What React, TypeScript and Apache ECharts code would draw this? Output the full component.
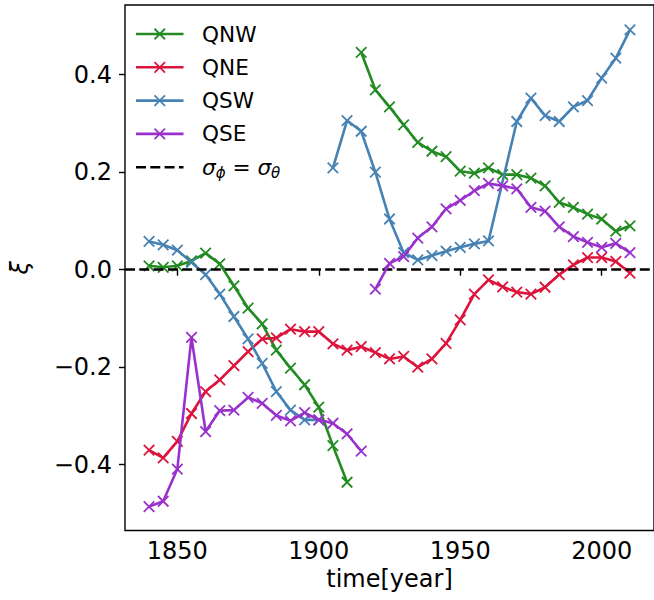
import React, { useEffect, useRef } from "react";
import * as echarts from "echarts";

const years = [
  1840, 1845, 1850, 1855, 1860, 1865, 1870, 1875, 1880, 1885, 1890, 1895,
  1900, 1905, 1910, 1915, 1920, 1925, 1930, 1935, 1940, 1945, 1950, 1955,
  1960, 1965, 1970, 1975, 1980, 1985, 1990, 1995, 2000, 2005, 2010,
];

const qnwValues = [
  0.008, 0.005, 0.008, 0.018, 0.034, 0.012, -0.033, -0.079, -0.111, -0.165,
  -0.202, -0.236, -0.282, -0.361, -0.436, 0.446, 0.369, 0.334, 0.297, 0.261,
  0.243, 0.232, 0.202, 0.198, 0.209, 0.195, 0.195, 0.188, 0.172, 0.138, 0.128,
  0.114, 0.104, 0.079, 0.09,
];

const qneValues = [
  -0.37, -0.386, -0.352, -0.295, -0.25, -0.226, -0.197, -0.168, -0.142, -0.14,
  -0.122, -0.127, -0.127, -0.152, -0.165, -0.158, -0.17, -0.183, -0.178, -0.2,
  -0.183, -0.151, -0.103, -0.05, -0.021, -0.035, -0.046, -0.05, -0.036, -0.01,
  0.01, 0.025, 0.025, 0.017, -0.007,
];

const qswValues: (number | null)[] = [
  0.058, 0.051, 0.04, 0.015, -0.01, -0.05, -0.096, -0.142, -0.192, -0.25,
  -0.288, -0.308, -0.308, 0.209, 0.306, 0.284, 0.2, 0.104, 0.035, 0.02, 0.029,
  0.038, 0.046, 0.053, 0.059, null, 0.304, 0.352, 0.316, 0.304, 0.334, 0.347,
  0.393, 0.434, 0.492,
];

const qseValues = [
  -0.486, -0.475, -0.409, -0.139, -0.332, -0.289, -0.288, -0.262, -0.274,
  -0.299, -0.31, -0.293, -0.308, -0.315, -0.337, -0.372, -0.04, 0.013, 0.027,
  0.065, 0.088, 0.125, 0.142, 0.162, 0.177, 0.172, 0.166, 0.128, 0.12, 0.088,
  0.068, 0.056, 0.046, 0.054, 0.035,
];

// years at which a new, unconnected line segment begins
const qnwSegmentStarts = [1915];
const qneSegmentStarts: number[] = [];
const qswSegmentStarts = [1905];
const qseSegmentStarts = [1920];

const seriesNames = ["QNW", "QNE", "QSW", "QSE"];
const referenceValue = 0;

const xTicks = [1850, 1900, 1950, 2000];
const yTicks = [-0.4, -0.2, 0.0, 0.2, 0.4];

const COLORS = ["#228B22", "#DC143C", "#4682B4", "#9932CC"];
const FONT = "DejaVu Sans";
const X_MARK = "path://M0,0L10,10M0,10L10,0";

function buildSegments(values: (number | null)[], starts: number[]) {
  const segs: [number, number][][] = [];
  let cur: [number, number][] = [];
  years.forEach((yr, i) => {
    if (starts.includes(yr) && cur.length) {
      segs.push(cur);
      cur = [];
    }
    const v = values[i];
    if (v !== null && v !== undefined) cur.push([yr, v]);
  });
  if (cur.length) segs.push(cur);
  return segs;
}

function fmtY(v: number) {
  const s = Math.abs(v).toFixed(1);
  return v < -1e-9 ? "\u2212" + s : s;
}

export default function App() {
  const ref = useRef<HTMLDivElement>(null);

  useEffect(() => {
    if (!ref.current) return;
    const chart = echarts.init(ref.current, undefined, { renderer: "svg" });

    const allValues = [qnwValues, qneValues, qswValues, qseValues];
    const allStarts = [qnwSegmentStarts, qneSegmentStarts, qswSegmentStarts, qseSegmentStarts];

    const series: any[] = [];
    allValues.forEach((vals, k) => {
      buildSegments(vals, allStarts[k]).forEach((seg) => {
        series.push({
          type: "line",
          name: seriesNames[k],
          data: seg,
          symbol: X_MARK,
          symbolSize: 10.5,
          showSymbol: true,
          lineStyle: { color: COLORS[k], width: 2.6 },
          itemStyle: { color: "none", borderColor: COLORS[k], borderWidth: 1.8 },
          emphasis: { disabled: true },
          silent: true,
          z: 2 + k,
        });
      });
    });

    series.push({
      type: "line",
      name: "reference",
      data: [],
      silent: true,
      z: 10,
      markLine: {
        silent: true,
        symbol: ["none", "none"],
        label: { show: false },
        lineStyle: { color: "#000", width: 2.6, type: [10, 4.3] },
        emphasis: { disabled: true },
        data: [{ yAxis: referenceValue }],
      },
    });

    // legend drawn with graphic elements
    const legendX0 = 136;
    const legendX1 = 183.5;
    const legendTextX = 202;
    const rowY = (i: number) => 34 + 33.3 * i;
    const legendEls: any[] = [];
    seriesNames.forEach((nm, i) => {
      const y = rowY(i);
      const c = COLORS[i];
      legendEls.push({
        type: "line",
        shape: { x1: legendX0, y1: y, x2: legendX1, y2: y },
        style: { stroke: c, lineWidth: 2.6 },
      });
      const mx = (legendX0 + legendX1) / 2;
      const h = 5.25;
      legendEls.push({
        type: "line",
        shape: { x1: mx - h, y1: y - h, x2: mx + h, y2: y + h },
        style: { stroke: c, lineWidth: 1.8 },
      });
      legendEls.push({
        type: "line",
        shape: { x1: mx - h, y1: y + h, x2: mx + h, y2: y - h },
        style: { stroke: c, lineWidth: 1.8 },
      });
      legendEls.push({
        type: "text",
        x: legendTextX,
        y: y,
        style: {
          text: nm,
          fill: "#000",
          font: `21.6px "${FONT}"`,
          verticalAlign: "middle",
          align: "left",
        },
      });
    });
    const ry = rowY(4);
    legendEls.push({
      type: "line",
      shape: { x1: legendX0, y1: ry, x2: legendX1, y2: ry },
      style: { stroke: "#000", lineWidth: 2.6, lineDash: [10, 4.3] },
    });
    legendEls.push({
      type: "text",
      x: legendTextX,
      y: ry,
      style: {
        text: "{m|σ}{s|ϕ}{r| = }{m|σ}{s|θ}",
        verticalAlign: "middle",
        align: "left",
        rich: {
          m: { fontFamily: FONT, fontSize: 21.6, fontStyle: "italic", fill: "#000", lineHeight: 26, verticalAlign: "middle" },
          r: { fontFamily: FONT, fontSize: 21.6, fill: "#000", lineHeight: 26, verticalAlign: "middle" },
          s: { fontFamily: FONT, fontSize: 15, fontStyle: "italic", fill: "#000", lineHeight: 15, verticalAlign: "bottom" },
        },
      },
    });

    chart.setOption({
      animation: false,
      backgroundColor: "#fff",
      textStyle: { fontFamily: FONT },
      grid: {
        left: 116.5,
        top: 5,
        width: 539.5,
        height: 525.5,
        show: true,
        borderColor: "#000",
        borderWidth: 1.4,
        backgroundColor: "transparent",
      },
      xAxis: {
        type: "value",
        min: 1831.5,
        max: 2018.5,
        name: "time[year]",
        nameLocation: "middle",
        nameGap: 33,
        nameTextStyle: { fontFamily: FONT, fontSize: 24, color: "#000" },
        axisLine: { show: false },
        splitLine: { show: false },
        axisTick: { show: true, length: 6, customValues: xTicks, lineStyle: { color: "#000", width: 1.4 } },
        axisLabel: {
          customValues: xTicks,
          fontFamily: FONT,
          fontSize: 24,
          color: "#000",
          margin: 8,
          formatter: (v: number) => String(Math.round(v)),
        },
      },
      yAxis: {
        type: "value",
        min: -0.535,
        max: 0.543,
        name: "ξ",
        nameLocation: "middle",
        nameRotate: 90,
        nameGap: 93,
        nameTextStyle: { fontFamily: FONT, fontSize: 24, color: "#000", fontStyle: "italic" },
        axisLine: { show: false },
        splitLine: { show: false },
        axisTick: { show: true, length: 6, customValues: yTicks, lineStyle: { color: "#000", width: 1.4 } },
        axisLabel: {
          customValues: yTicks,
          fontFamily: FONT,
          fontSize: 24,
          color: "#000",
          margin: 13,
          formatter: (v: number) => fmtY(v),
        },
      },
      series,
      graphic: [{ type: "group", z: 100, children: legendEls }],
    });

    return () => chart.dispose();
  }, []);

  return (
    <div
      ref={ref}
      style={{ position: "absolute", left: 0, top: 0, width: 654, height: 600 }}
    />
  );
}
